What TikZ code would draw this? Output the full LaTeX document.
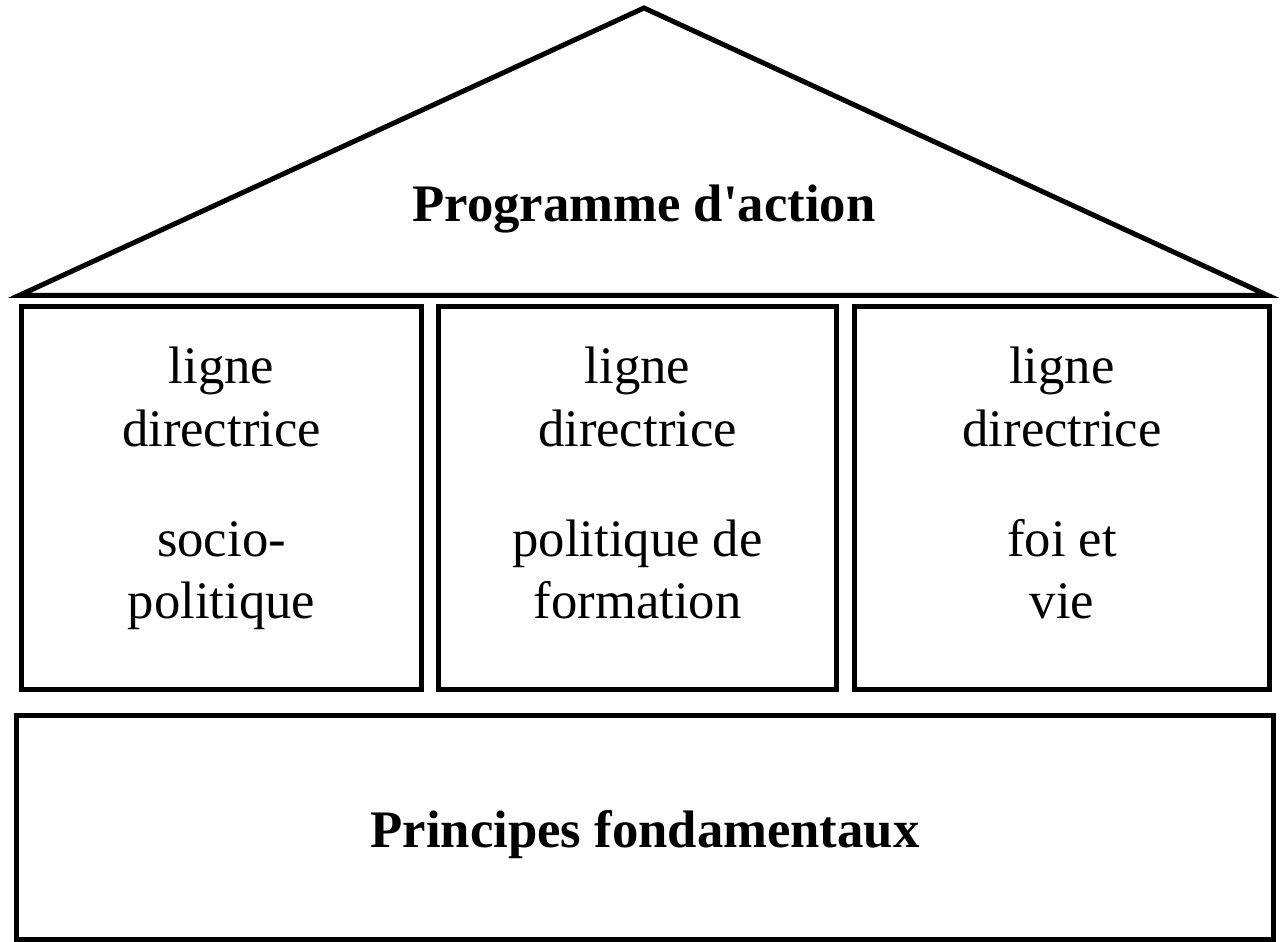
\documentclass[tikz,border=0pt]{standalone}
\usepackage{fontspec}
\setmainfont{Liberation Serif}
\tikzset{
wall/.style={line width=0.1cm, line join=miter},
pillar/.style={shape=rectangle, wall, draw, inner sep=0, minimum height=7.67cm},
plinth/.style={pillar, minimum width=25.14cm, minimum height=4.49cm},
words/.style={inner sep=0, align=center, font=\fontsize{30}{35.5}\selectfont},
heading/.style={words, font=\fontsize{30}{35.5}\selectfont\bfseries}}
\begin{document}
\begin{tikzpicture}[x=0.02cm, y=0.02cm]
\useasboundingbox (0,0) rectangle (1280,942);
% roof
\coordinate (roof-l) at (19,646.5);
\coordinate (roof-t) at (644,934);
\coordinate (roof-r) at (1268,646.5);
\draw [wall] (roof-l) -- (roof-t) -- (roof-r) -- cycle;
\node [heading, anchor=base] at (644,720) (roof-txt) {Programme d\textquotesingle action};
% pillars
\foreach \cx/\bw/\txt [count=\j] in {221.5/8.0/{socio-\\politique}, 637.5/7.96/{politique de\\formation}, 1062/8.32/{foi et\\vie}}{
      \node [pillar, minimum width=\bw cm] at (\cx, 444.25) (pillar-\j) {};
      \node [words, anchor=north] at (\cx, 595) (pillar-txt-\j) {ligne\\directrice\\[27pt]\txt};
}
% base
\node [plinth] at (645,114.25) (base) {};
\node [heading, anchor=base] at (645,94) (base-txt) {Principes fondamentaux};
\end{tikzpicture}
\end{document}
